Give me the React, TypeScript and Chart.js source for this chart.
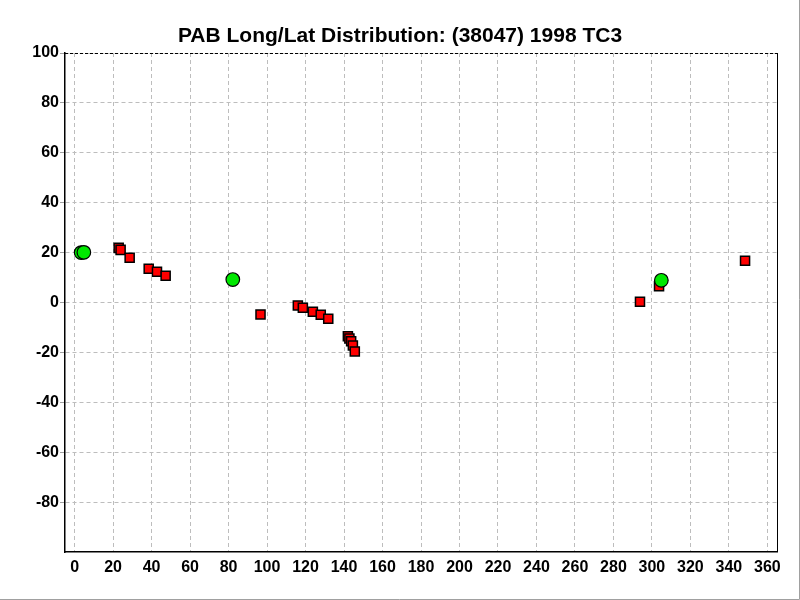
import React, { useEffect, useRef } from "react";
import { Chart, registerables } from "chart.js";

Chart.register(...registerables);

const TITLE = "PAB Long/Lat Distribution: (38047) 1998 TC3";

const xTicks = [0, 20, 40, 60, 80, 100, 120, 140, 160, 180, 200, 220, 240, 260, 280, 300, 320, 340, 360];
const yTicks = [-80, -60, -40, -20, 0, 20, 40, 60, 80, 100];

// Red squares (long, lat)
const redLong = [22.9, 23.9, 28.6, 38.5, 42.8, 47.3, 96.6, 116.0, 118.6, 123.8, 127.9, 131.8, 142.0, 142.8, 143.7, 144.6, 145.6, 293.8, 303.7, 348.4];
const redLat = [21.9, 21.1, 17.9, 13.5, 12.3, 10.7, -4.8, -1.2, -2.1, -3.7, -4.9, -6.5, -13.5, -14.4, -15.5, -17.2, -19.6, 0.3, 6.5, 16.7];

// Green circles (long, lat)
const greenLong = [3.4, 4.8, 82.2, 304.9];
const greenLat = [20.0, 20.1, 9.2, 8.9];

const FONT = "'Liberation Sans', Arial, sans-serif";

const framePlugin = {
  id: "framePlugin",
  afterDraw(chart: any) {
    const { ctx, chartArea } = chart;
    const { left, right, top, bottom } = chartArea;
    ctx.save();
    // top dashed line
    ctx.strokeStyle = "#000";
    ctx.lineWidth = 1;
    ctx.setLineDash([3, 2]);
    ctx.beginPath();
    ctx.moveTo(left, Math.round(top) + 0.5);
    ctx.lineTo(right, Math.round(top) + 0.5);
    ctx.stroke();
    ctx.setLineDash([]);
    // right solid line
    ctx.beginPath();
    ctx.moveTo(Math.round(right) + 0.5, top);
    ctx.lineTo(Math.round(right) + 0.5, bottom);
    ctx.stroke();
    // outer gray frame (right and bottom)
    ctx.strokeStyle = "#a0a0a0";
    ctx.beginPath();
    ctx.moveTo(799.5, 0);
    ctx.lineTo(799.5, 599.5);
    ctx.lineTo(0, 599.5);
    ctx.stroke();
    // title
    ctx.fillStyle = "#000";
    ctx.font = "bold 21px " + FONT;
    ctx.textAlign = "center";
    ctx.textBaseline = "alphabetic";
    ctx.fillText(TITLE, 400, 42);
    ctx.restore();
  },
};

export default function App() {
  const ref = useRef<HTMLCanvasElement | null>(null);
  useEffect(() => {
    if (!ref.current) return;
    const chart = new Chart(ref.current, {
      type: "scatter",
      data: {
        datasets: [
          {
            label: "green",
            data: greenLong.map((x, i) => ({ x, y: greenLat[i] })),
            pointStyle: "circle",
            pointRadius: 6.8,
            pointBackgroundColor: "#00e800",
            pointBorderColor: "#000",
            pointBorderWidth: 1.2,
          },
          {
            label: "red",
            data: redLong.map((x, i) => ({ x, y: redLat[i] })),
            pointStyle: "rect",
            pointRadius: 6.4,
            pointBackgroundColor: "#ff0000",
            pointBorderColor: "#000",
            pointBorderWidth: 1.5,
          },
        ],
      },
      options: {
        animation: false,
        responsive: false,
        maintainAspectRatio: false,
        layout: { padding: { top: 53, right: 23, left: 0, bottom: 0 } },
        plugins: {
          legend: { display: false },
          title: { display: false },
          tooltip: { enabled: false },
        },
        scales: {
          x: {
            type: "linear",
            min: -5,
            max: 365,
            afterBuildTicks: (s: any) => {
              s.ticks = xTicks.map((v) => ({ value: v }));
            },
            afterFit: (s: any) => {
              s.height = 48;
            },
            grid: {
              color: "#bdbdbd",
              lineWidth: 1,
              drawTicks: false,
              tickLength: 0,
            },
            border: { display: true, color: "#000", width: 1.5, dash: [4, 3] },
            ticks: {
              color: "#000",
              font: { family: FONT, size: 16, weight: "bold" },
              padding: 6,
              maxRotation: 0,
              autoSkip: false,
            },
          },
          y: {
            type: "linear",
            min: -100,
            max: 100,
            afterBuildTicks: (s: any) => {
              s.ticks = yTicks.map((v) => ({ value: v }));
            },
            afterFit: (s: any) => {
              s.width = 65;
            },
            grid: {
              color: "#bdbdbd",
              lineWidth: 1,
              drawTicks: true,
              tickLength: 5,
              tickColor: "#a0a0a0",
            },
            border: { display: true, color: "#000", width: 1.5, dash: [4, 3] },
            ticks: {
              color: "#000",
              font: { family: FONT, size: 16, weight: "bold" },
              padding: 1,
              autoSkip: false,
            },
          },
        },
      } as any,
      plugins: [framePlugin],
    });
    return () => chart.destroy();
  }, []);
  return (
    <div style={{ position: "fixed", left: 0, top: 0, width: 800, height: 600, background: "#fff" }}>
      <canvas ref={ref} width={800} height={600} style={{ width: 800, height: 600, display: "block" }} />
    </div>
  );
}
